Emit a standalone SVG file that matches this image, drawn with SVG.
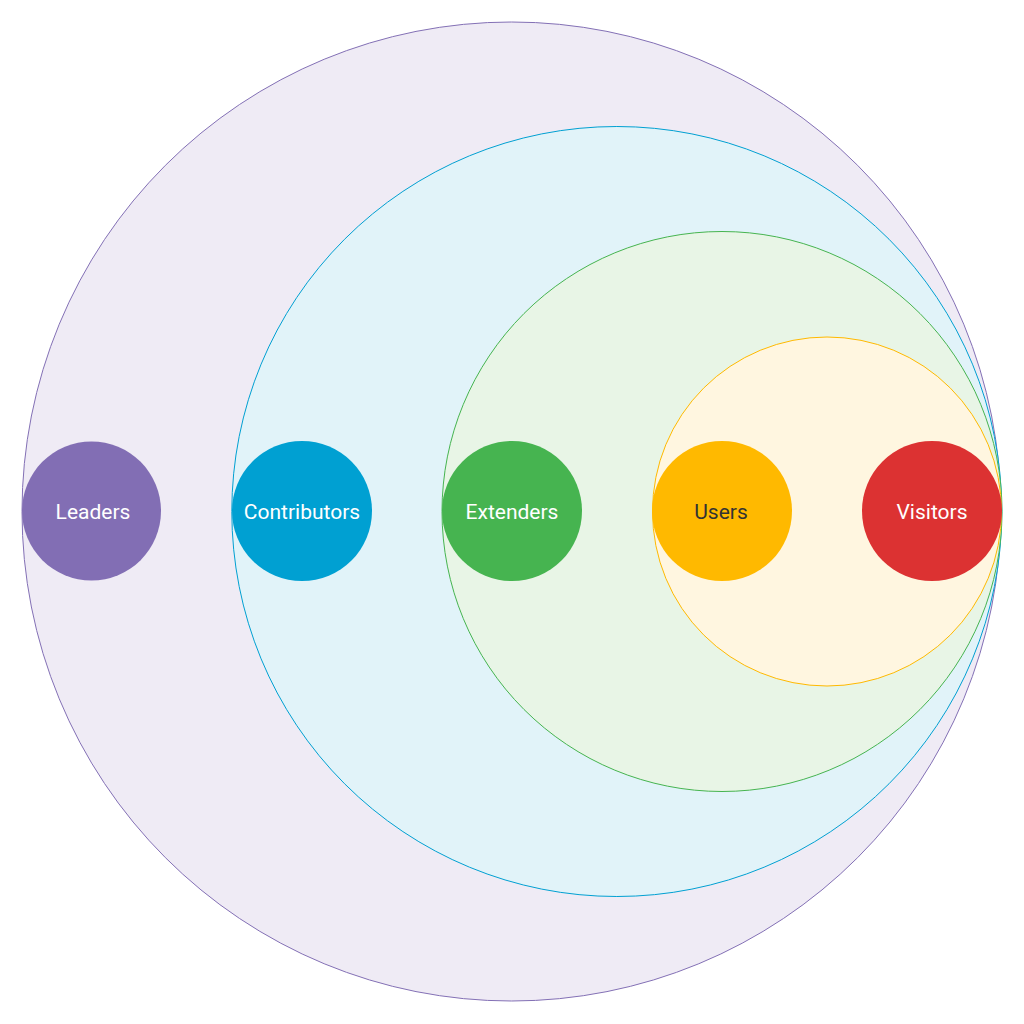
<svg xmlns="http://www.w3.org/2000/svg" width="1024" height="1024" viewBox="0 0 1024 1024">
<style>
.ring{stroke-width:1}
.lbl{font-family:Roboto,"Liberation Sans",sans-serif;font-size:21px;fill:#fff;text-anchor:middle;dominant-baseline:central}
.dark{fill:#333}
</style>
<rect width="1024" height="1024" fill="#fff"/>
<g id="rings">
<circle class="ring" cx="511.5" cy="511.5" r="489.5" fill="#EFEBF5" stroke="#8370B5"/>
<circle class="ring" cx="616.8" cy="511.5" r="385" fill="#E1F3F9" stroke="#00A0D2"/>
<circle class="ring" cx="722" cy="511.5" r="280" fill="#E8F5E6" stroke="#46B450"/>
<circle class="ring" cx="827" cy="511.5" r="174.5" fill="#FFF6E0" stroke="#FFB900"/>
</g>
<g id="connectors"></g>
<g id="leaders"><circle cx="91.5" cy="511" r="69.5" fill="#826EB4"/><text class="lbl" x="93" y="512">Leaders</text></g>
<g id="contributors"><circle cx="302" cy="511" r="70" fill="#00A0D2"/><text class="lbl" x="302" y="512">Contributors</text></g>
<g id="extenders"><circle cx="512" cy="511" r="70" fill="#46B450"/><text class="lbl" x="512" y="512">Extenders</text></g>
<g id="users"><circle cx="722" cy="511" r="70" fill="#FFB900"/><text class="lbl dark" x="721" y="512">Users</text></g>
<g id="visitors"><circle cx="932" cy="511" r="70" fill="#DC3232"/><text class="lbl" x="932" y="512">Visitors</text></g>
</svg>
